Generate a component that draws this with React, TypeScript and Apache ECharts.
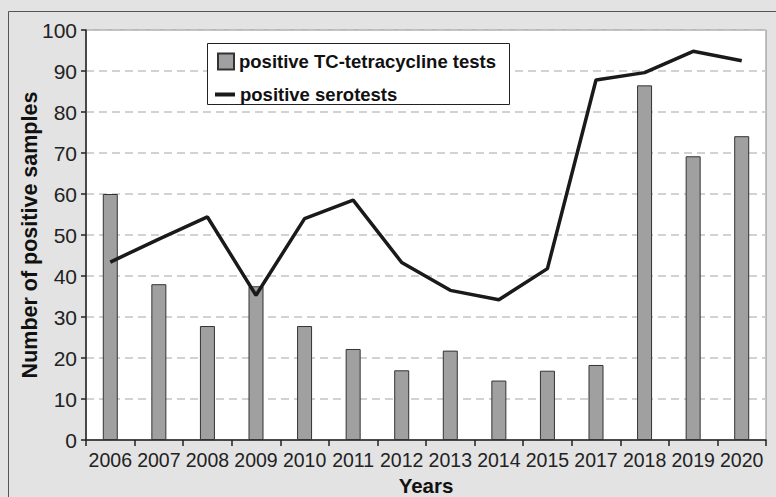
import React, { useEffect, useRef } from "react";
import * as echarts from "echarts";

const years = ["2006", "2007", "2008", "2009", "2010", "2011", "2012", "2013", "2014", "2015", "2017", "2018", "2019", "2020"];
const tcTests = [60, 38, 27.8, 37.5, 27.8, 22.2, 17, 21.8, 14.5, 16.9, 18.3, 86.5, 69.2, 74.1];
const seroTests = [43.4, 49, 54.4, 35.3, 54, 58.5, 43.3, 36.5, 34.2, 41.8, 87.8, 89.6, 94.8, 92.5];
const yTicks = { min: 0, max: 100, interval: 10 };

const barName = "positive TC-tetracycline tests";
const lineName = "positive serotests";
const FONT = "'Liberation Sans', Arial, sans-serif";

export default function App() {
  const ref = useRef<HTMLDivElement>(null);
  useEffect(() => {
    if (!ref.current) return;
    const chart = echarts.init(ref.current, null, { renderer: "svg" });
    chart.setOption({
      animation: false,
      backgroundColor: "#e3e3e3",
      textStyle: { fontFamily: FONT },
      graphic: [
        {
          type: "rect",
          shape: { x: 8.5, y: 11.5, width: 800, height: 520 },
          style: { fill: "none", stroke: "#555", lineWidth: 1 },
          z: 0,
        },
        {
          type: "rect",
          shape: { x: 207.5, y: 43.5, width: 302, height: 61 },
          style: { fill: "#fff", stroke: "#222", lineWidth: 1 },
          z: 5,
        },
      ],
      legend: [
        {
          data: [{ name: barName, icon: "rect" }],
          left: 217,
          top: 52,
          itemWidth: 16,
          itemHeight: 16,
          padding: 0,
          itemGap: 8,
          z: 10,
          textStyle: { fontFamily: FONT, fontSize: 18.5, fontWeight: "bold", color: "#111" },
        },
        {
          data: [{ name: lineName, icon: "rect" }],
          left: 215,
          top: 85,
          itemWidth: 20,
          itemHeight: 4,
          padding: 0,
          itemGap: 6,
          z: 10,
          textStyle: { fontFamily: FONT, fontSize: 18.5, fontWeight: "bold", color: "#111" },
        },
      ],
      grid: {
        left: 86,
        right: 10,
        top: 30,
        bottom: 57,
        outerBoundsMode: "none",
        containLabel: false,
        show: true,
        backgroundColor: "#fff",
        borderColor: "#888",
        borderWidth: 1,
      },
      xAxis: {
        type: "category",
        data: years,
        boundaryGap: true,
        name: "Years",
        nameLocation: "middle",
        nameGap: 35,
        nameMoveOverlap: false,
        nameTextStyle: { fontFamily: FONT, fontSize: 20.5, fontWeight: "bold", color: "#111" },
        axisLine: { lineStyle: { color: "#222", width: 1.5 } },
        axisTick: { show: true, length: 6, lineStyle: { color: "#222", width: 1.5 } },
        axisLabel: { fontFamily: FONT, fontSize: 19.5, color: "#222", margin: 10, interval: 0 },
      },
      yAxis: {
        type: "value",
        min: yTicks.min,
        max: yTicks.max,
        interval: yTicks.interval,
        name: "Number of positive samples",
        nameLocation: "middle",
        nameGap: 45.5,
        nameMoveOverlap: false,
        nameTextStyle: { fontFamily: FONT, fontSize: 21.5, fontWeight: "bold", color: "#111" },
        axisLine: { show: true, lineStyle: { color: "#222", width: 1.5 } },
        axisTick: { show: true, length: 5, lineStyle: { color: "#222", width: 1.5 } },
        axisLabel: { fontFamily: FONT, fontSize: 21, color: "#222", margin: 9 },
        splitLine: { show: true, lineStyle: { color: "#c4c4c4", width: 1.5, type: [8, 5] } },
      },
      series: [
        {
          name: barName,
          type: "bar",
          data: tcTests,
          barWidth: 15,
          itemStyle: { color: "#a0a0a0", borderColor: "#333", borderWidth: 1 },
          z: 2,
        },
        {
          name: lineName,
          type: "line",
          data: seroTests,
          symbol: "none",
          lineStyle: { color: "#1a1a1a", width: 3.5 },
          itemStyle: { color: "#1a1a1a" },
          z: 3,
        },
      ],
    });
    return () => chart.dispose();
  }, []);
  return <div ref={ref} style={{ position: "absolute", left: 0, top: 0, width: 776, height: 497 }} />;
}
